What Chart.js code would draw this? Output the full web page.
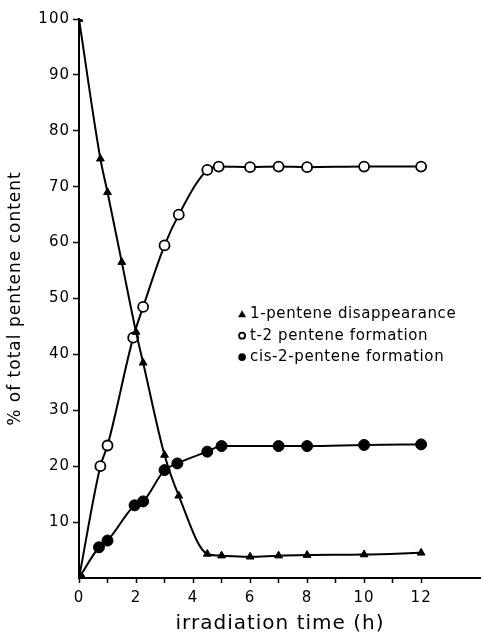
<!DOCTYPE html>
<html>
<head>
<meta charset="utf-8">
<script src="https://cdn.jsdelivr.net/npm/chart.js@4"></script>
<style>
  html, body { margin: 0; padding: 0; background: #fff; overflow: hidden; }
  #wrap { width: 481px; height: 637px; }
  canvas { display: block; }
</style>
</head>
<body>
<div id="wrap"><canvas id="chart"></canvas></div>
<script>
// irradiation time (h) / % of total pentene content
const pent1Time = [0, 0.75, 1, 1.5, 2, 2.25, 3, 3.5, 4.5, 5, 6, 7, 8, 10, 12];
const pent1Value = [100, 75, 69, 56.5, 44, 38.5, 22, 14.7, 4.3, 4, 3.8, 4, 4.1, 4.2, 4.5];

const trans2Time = [0, 0.75, 1, 1.9, 2.25, 3, 3.5, 4.5, 4.9, 6, 7, 8, 10, 12];
const trans2Value = [0, 20, 23.7, 43, 48.5, 59.5, 65, 73, 73.6, 73.5, 73.6, 73.5, 73.6, 73.6];

const cis2Time = [0, 0.7, 1, 1.95, 2.25, 3, 3.45, 4.5, 5, 7, 8, 10, 12];
const cis2Value = [0, 5.5, 6.7, 13, 13.7, 19.3, 20.5, 22.6, 23.6, 23.6, 23.6, 23.8, 23.9];

const seriesLabels = ['1-pentene disappearance', 't-2 pentene formation', 'cis-2-pentene formation'];
const xTickLabels = ['0', '2', '4', '6', '8', '10', '12'];

const FONT = 'DejaVu Sans';

function toPoints(xs, ys) {
    return xs.map((x, i) => ({ x: x, y: ys[i] }));
}

// the original lettering is wide and loosely spaced
const wideText = {
    id: 'wideText',
    beforeUpdate(chart) { chart.ctx.letterSpacing = '1px'; },
    beforeDraw(chart) { chart.ctx.letterSpacing = '1px'; }
};

// legend drawn inside the plot, like the original figure
const insideLegend = {
    id: 'insideLegend',
    afterDatasetsDraw(chart) {
        const ctx = chart.ctx;
        const xs = chart.scales.x;
        const ys = chart.scales.y;
        const left = xs.getPixelForValue(5.72);
        const top = ys.getPixelForValue(47.2);
        ctx.save();
        ctx.font = '15px "' + FONT + '"';
        ctx.letterSpacing = '0.6px';
        ctx.fillStyle = '#000';
        ctx.strokeStyle = '#000';
        ctx.textBaseline = 'middle';
        seriesLabels.forEach((label, i) => {
            const y = top + i * 21.5;
            ctx.beginPath();
            if (i === 0) {
                ctx.moveTo(left, y - 4);
                ctx.lineTo(left + 4, y + 3);
                ctx.lineTo(left - 4, y + 3);
                ctx.closePath();
                ctx.fill();
            } else if (i === 1) {
                ctx.lineWidth = 1.8;
                ctx.arc(left, y, 3, 0, Math.PI * 2);
                ctx.stroke();
            } else {
                ctx.arc(left, y, 3.8, 0, Math.PI * 2);
                ctx.fill();
            }
            ctx.fillText(label, left + 8, y);
        });
        ctx.restore();
    }
};

new Chart(document.getElementById('chart'), {
    type: 'line',
    data: {
        datasets: [
            {
                label: seriesLabels[2],
                data: toPoints(cis2Time, cis2Value),
                borderColor: '#000',
                backgroundColor: '#000',
                borderWidth: 2,
                pointStyle: 'circle',
                pointRadius: 5.5,
                pointBorderWidth: 1,
                cubicInterpolationMode: 'monotone'
            },
            {
                label: seriesLabels[0],
                data: toPoints(pent1Time, pent1Value),
                borderColor: '#000',
                backgroundColor: '#000',
                borderWidth: 2,
                pointStyle: 'triangle',
                pointRadius: 4.5,
                pointBorderWidth: 1,
                cubicInterpolationMode: 'monotone'
            },
            {
                label: seriesLabels[1],
                data: toPoints(trans2Time, trans2Value),
                borderColor: '#000',
                backgroundColor: '#fff',
                borderWidth: 2,
                pointStyle: 'circle',
                pointRadius: 5,
                pointBorderWidth: 1.8,
                cubicInterpolationMode: 'monotone'
            }
        ]
    },
    options: {
        responsive: true,
        maintainAspectRatio: false,
        animation: false,
        layout: {
            autoPadding: false,
            padding: { top: 19, right: 0, left: 0, bottom: 0 }
        },
        plugins: {
            legend: { display: false },
            tooltip: { enabled: false }
        },
        scales: {
            x: {
                type: 'linear',
                min: 0,
                max: 14.1,
                afterFit: (scale) => {
                    scale.height = 59;
                    scale.paddingRight = 0;
                },
                afterBuildTicks: (scale) => {
                    scale.ticks = scale.ticks.filter(t => t.value <= 12 && Number.isInteger(t.value));
                },
                ticks: {
                    stepSize: 1,
                    autoSkip: false,
                    maxRotation: 0,
                    padding: 6,
                    color: '#000',
                    font: { family: FONT, size: 15 },
                    callback: (v) => xTickLabels.includes(String(v)) ? String(v) : ''
                },
                grid: {
                    drawOnChartArea: false,
                    drawTicks: true,
                    tickLength: 5,
                    tickWidth: 1.5,
                    color: '#000'
                },
                border: { display: true, color: '#000', width: 2 },
                title: {
                    display: true,
                    text: 'irradiation time (h)',
                    color: '#000',
                    font: { family: FONT, size: 20 },
                    padding: { top: 0, bottom: 1 }
                }
            },
            y: {
                type: 'linear',
                min: 0,
                max: 100,
                afterFit: (scale) => { scale.width = 79; },
                afterBuildTicks: (scale) => {
                    scale.ticks = scale.ticks.filter(t => t.value >= 10);
                },
                ticks: {
                    stepSize: 10,
                    padding: 3,
                    color: '#000',
                    font: { family: FONT, size: 15 }
                },
                grid: {
                    drawOnChartArea: false,
                    drawTicks: true,
                    tickLength: 6,
                    tickWidth: 1.5,
                    color: '#000'
                },
                border: { display: true, color: '#000', width: 2 },
                title: {
                    display: true,
                    text: '% of total pentene content',
                    color: '#000',
                    font: { family: FONT, size: 17 },
                    padding: { top: 5, bottom: 0 }
                }
            }
        }
    },
    plugins: [wideText, insideLegend]
});
</script>
</body>
</html>
